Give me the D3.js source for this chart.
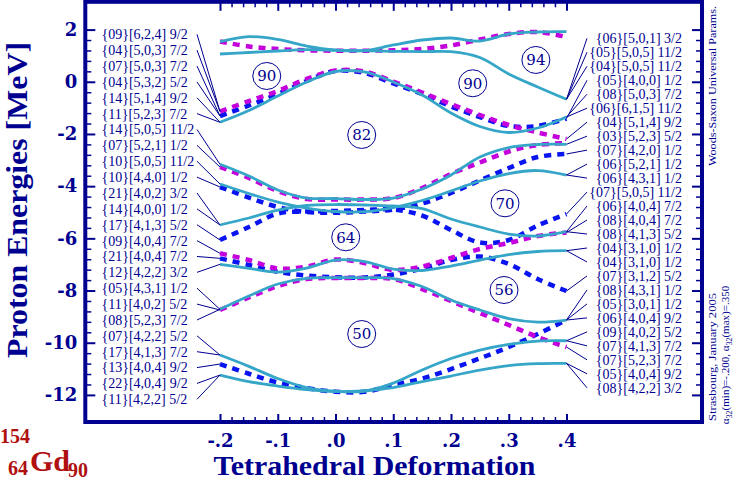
<!DOCTYPE html>
<html><head><meta charset="utf-8">
<script src="https://cdn.jsdelivr.net/npm/d3@7"></script>
<style>body{margin:0;background:#fff}svg{display:block}</style>
</head><body><svg id="c" width="733" height="482"></svg>
<script>
// ---------- data ----------
const alphaGrid = [-0.2,-0.15,-0.1,-0.05,0,0.05,0.1,0.15,0.2,0.25,0.3,0.35,0.4];

const cyan1  = [1.536,1.728,1.621,1.371,1.218,1.191,1.410,1.601,1.678,1.563,1.831,1.908,1.920];
const cyan2  = [1.065,1.122,1.180,1.230,1.207,1.187,1.168,1.153,1.153,0.931,0.298,-0.200,-0.672];
const cyan3  = [-1.553,-1.101,-0.545,-0.008,0.394,0.375,-0.008,-0.507,-1.197,-1.714,-1.944,-1.772,-1.350];
const cyan4  = [-3.163,-3.611,-4.148,-4.455,-4.474,-4.512,-4.455,-4.110,-3.573,-2.883,-2.519,-2.404,-2.396];
const cyan5  = [-3.918,-4.282,-4.608,-4.838,-4.972,-4.980,-4.819,-4.550,-4.186,-3.803,-3.516,-3.401,-3.573];
const cyan6  = [-5.489,-5.221,-4.915,-4.742,-4.704,-4.723,-4.761,-4.857,-5.260,-5.566,-5.834,-5.911,-5.746];
const cyan7  = [-6.996,-7.149,-7.291,-7.138,-6.831,-6.888,-7.176,-7.233,-7.061,-6.831,-6.620,-6.505,-6.474];
const cyan8  = [-8.721,-8.211,-7.751,-7.532,-7.509,-7.509,-7.540,-7.847,-8.364,-8.747,-9.073,-9.207,-9.131];
const cyan9  = [-10.472,-10.905,-11.373,-11.718,-11.860,-11.860,-11.546,-11.047,-10.606,-10.281,-10.062,-9.936,-9.924];
const cyan10 = [-11.239,-11.488,-11.660,-11.795,-11.871,-11.833,-11.718,-11.488,-11.277,-11.047,-10.875,-10.798,-10.790];

const blue1 = [-1.312,-0.909,-0.468,0.030,0.413,0.337,-0.066,-0.468,-0.947,-1.350,-1.695,-1.695,-1.407];
const blue2 = [-4.033,-4.435,-4.800,-4.991,-5.018,-4.972,-4.895,-4.665,-4.263,-3.784,-3.305,-2.883,-2.768];
const blue3 = [-6.064,-5.566,-5.049,-4.972,-4.953,-4.915,-4.895,-5.125,-5.681,-6.160,-6.064,-5.509,-5.068];
const blue4 = [-6.766,-7.023,-7.279,-7.425,-7.494,-7.502,-7.387,-7.157,-6.831,-6.697,-6.984,-7.559,-8.019];
const blue5 = [-10.817,-11.189,-11.526,-11.737,-11.879,-11.879,-11.622,-11.373,-11.009,-10.599,-10.166,-9.667,-9.131];

const magenta1 = [1.544,1.352,1.256,1.207,1.191,1.191,1.207,1.256,1.391,1.621,1.831,1.908,1.716];
const magenta2 = [-1.139,-0.737,-0.353,0.107,0.432,0.394,0.011,-0.411,-0.852,-1.273,-1.657,-1.944,-2.193];
const magenta3 = [-3.266,-3.688,-4.186,-4.493,-4.512,-4.512,-4.455,-4.071,-3.535,-3.094,-2.672,-2.423,-2.346];
const magenta4 = [-6.574,-6.831,-7.157,-7.080,-6.812,-6.946,-7.214,-7.080,-6.754,-6.409,-6.179,-5.911,-5.777];
const magenta5 = [-8.747,-8.268,-7.828,-7.559,-7.521,-7.521,-7.559,-7.943,-8.403,-8.862,-9.322,-9.782,-10.166];

const cyanLevels = [cyan1,cyan2,cyan3,cyan4,cyan5,cyan6,cyan7,cyan8,cyan9,cyan10];
const blueLevels = [blue1,blue2,blue3,blue4,blue5];
const magentaLevels = [magenta1,magenta2,magenta3,magenta4,magenta5];

const leftLabels = ["{09}[6,2,4] 9/2","{04}[5,0,3] 7/2","{07}[5,0,3] 7/2","{04}[5,3,2] 5/2","{14}[5,1,4] 9/2",
 "{11}[5,2,3] 7/2","{14}[5,0,5] 11/2","{07}[5,2,1] 1/2","{10}[5,0,5] 11/2","{10}[4,4,0] 1/2","{21}[4,0,2] 3/2",
 "{14}[4,0,0] 1/2","{17}[4,1,3] 5/2","{09}[4,0,4] 7/2","{21}[4,0,4] 7/2","{12}[4,2,2] 3/2","{05}[4,3,1] 1/2",
 "{11}[4,0,2] 5/2","{08}[5,2,3] 7/2","{07}[4,2,2] 5/2","{17}[4,1,3] 7/2","{13}[4,0,4] 9/2","{22}[4,0,4] 9/2","{11}[4,2,2] 5/2"];
const leftTargets = [magenta2,magenta2,blue1,blue1,cyan3,cyan3,cyan4,magenta3,cyan5,blue2,cyan6,cyan6,blue3,
 magenta4,blue4,cyan7,cyan8,magenta5,cyan8,cyan9,cyan9,blue5,cyan10,cyan10];

const rightLabels = ["{06}[5,0,1] 3/2","{05}[5,0,5] 11/2","{04}[5,0,5] 11/2","{05}[4,0,0] 1/2","{08}[5,0,3] 7/2",
 "{06}[6,1,5] 11/2","{04}[5,1,4] 9/2","{03}[5,2,3] 5/2","{07}[4,2,0] 1/2","{06}[5,2,1] 1/2","{06}[4,3,1] 1/2",
 "{07}[5,0,5] 11/2","{06}[4,0,4] 7/2","{08}[4,0,4] 7/2","{08}[4,1,3] 5/2","{04}[3,1,0] 1/2","{04}[3,1,0] 1/2",
 "{07}[3,1,2] 5/2","{08}[4,3,1] 1/2","{05}[3,0,1] 1/2","{06}[4,0,4] 9/2","{09}[4,0,2] 5/2","{07}[4,1,3] 7/2",
 "{07}[5,2,3] 7/2","{05}[4,0,4] 9/2","{08}[4,2,2] 3/2"];
const rightTargets = [cyan2,cyan2,cyan2,blue1,cyan3,cyan3,magenta2,cyan4,blue2,cyan5,cyan5,blue3,cyan6,magenta4,
 cyan6,cyan7,cyan7,blue4,cyan8,blue5,cyan8,cyan9,cyan9,magenta5,cyan10,cyan10];

const gapNumbers = ["90","90","94","82","70","64","56","50"];
const gapAlpha   = [-0.119,0.2376,0.347,0.0454,0.2935,0.0177,0.2918,0.0454];
const gapEnergy  = [0.222,-0.057,0.836,-2.039,-4.657,-5.960,-7.980,-9.667];

const yMajorTicks = [2,0,-2,-4,-6,-8,-10,-12];
const xMajorTicks = [-0.2,-0.1,0,0.1,0.2,0.3,0.4];

// ---------- drawing ----------
const NAVY = "#000090";
const svg = d3.select("#c");
const frame = {l:85.3, t:1.8, r:702, b:422};
const x = d3.scaleLinear().domain([-0.2,0.4]).range([220,566.5]);
const y = d3.scaleLinear().domain([3,-13]).range([3.5,421]);

const yMinor = d3.range(-12, 2.001, 0.4).map(v=>+v.toFixed(1)).filter(v=>!yMajorTicks.includes(v));
const xMinor = d3.range(-0.2, 0.4001, 0.02).map(v=>+v.toFixed(2)).filter(v=>!xMajorTicks.some(t=>Math.abs(t-v)<1e-6));

function styleAxis(g, w){
  g.select(".domain").remove();
  g.selectAll(".tick line").attr("stroke",NAVY).attr("stroke-width",w);
}
const fmtX = d => (d < -1e-9 ? "-" : "") + d3.format(".1f")(Math.abs(d)).replace(/^0/,"");

// left
svg.append("g").attr("transform",`translate(${frame.l},0)`)
  .call(d3.axisLeft(y).tickValues(yMajorTicks).tickSize(-10).tickPadding(8).tickFormat(d=>String(d)))
  .call(g=>{styleAxis(g,2);g.selectAll("text").attr("font-family","DejaVu Serif").attr("font-weight","bold").attr("font-size",18).attr("fill",NAVY);});
svg.append("g").attr("transform",`translate(${frame.l},0)`)
  .call(d3.axisLeft(y).tickValues(yMinor).tickSize(-6).tickFormat(""))
  .call(g=>styleAxis(g,1.5));
// right
svg.append("g").attr("transform",`translate(${frame.r},0)`)
  .call(d3.axisRight(y).tickValues(yMajorTicks).tickSize(-10).tickFormat(""))
  .call(g=>styleAxis(g,2));
svg.append("g").attr("transform",`translate(${frame.r},0)`)
  .call(d3.axisRight(y).tickValues(yMinor).tickSize(-6).tickFormat(""))
  .call(g=>styleAxis(g,1.5));
// bottom
svg.append("g").attr("transform",`translate(0,${frame.b})`)
  .call(d3.axisBottom(x).tickValues(xMajorTicks).tickSize(-8).tickPadding(12).tickFormat(fmtX))
  .call(g=>{styleAxis(g,2);g.selectAll("text").attr("font-family","DejaVu Serif").attr("font-weight","bold").attr("font-size",18).attr("fill",NAVY);});
svg.append("g").attr("transform",`translate(0,${frame.b})`)
  .call(d3.axisBottom(x).tickValues(xMinor).tickSize(-5).tickFormat(""))
  .call(g=>styleAxis(g,1.5));
// top
svg.append("g").attr("transform",`translate(0,${frame.t})`)
  .call(d3.axisTop(x).tickValues(xMajorTicks).tickSize(-9).tickFormat(""))
  .call(g=>styleAxis(g,2));
svg.append("g").attr("transform",`translate(0,${frame.t})`)
  .call(d3.axisTop(x).tickValues(xMinor).tickSize(-5.5).tickFormat(""))
  .call(g=>styleAxis(g,1.5));

// frame
svg.append("rect").attr("x",frame.l).attr("y",frame.t).attr("width",frame.r-frame.l).attr("height",frame.b-frame.t)
  .attr("fill","none").attr("stroke",NAVY).attr("stroke-width",4);

// levels
const line = d3.line().x((d,i)=>x(alphaGrid[i])).y(d=>y(d)).curve(d3.curveCatmullRom.alpha(0.5));
const gL = svg.append("g");
gL.selectAll("path.blue").data(blueLevels).join("path").attr("class","blue")
  .attr("d",line).attr("fill","none").attr("stroke","#0a14f0").attr("stroke-width",4.5).attr("stroke-dasharray","7,6");
gL.selectAll("path.mag").data(magentaLevels).join("path").attr("class","mag")
  .attr("d",line).attr("fill","none").attr("stroke","#c400dc").attr("stroke-width",4.5).attr("stroke-dasharray","7,6");
gL.selectAll("path.cyan").data(cyanLevels).join("path").attr("class","cyan")
  .attr("d",line).attr("fill","none").attr("stroke","#35a6c8").attr("stroke-width",2.8);

// labels + leaders
const leftY = i => 34.3 + i*15.87;
const rightY = i => 38.3 + i*13.98;
const gT = svg.append("g").attr("font-family","Liberation Serif").attr("font-size",14).attr("fill",NAVY);
gT.selectAll("text.l").data(leftLabels).join("text").attr("class","l")
  .attr("x",101.5).attr("y",(d,i)=>leftY(i)).attr("dy","0.35em").text(d=>d);
gT.selectAll("text.r").data(rightLabels).join("text").attr("class","r")
  .attr("x",682).attr("y",(d,i)=>rightY(i)).attr("dy","0.35em").attr("text-anchor","end").text(d=>d);
svg.append("g").selectAll("line").data(leftTargets).join("line")
  .attr("x1",197).attr("y1",(d,i)=>leftY(i)).attr("x2",x(alphaGrid[0])).attr("y2",d=>y(d[0]))
  .attr("stroke",NAVY).attr("stroke-width",1);
svg.append("g").selectAll("line").data(rightTargets).join("line")
  .attr("x1",x(alphaGrid[alphaGrid.length-1])).attr("y1",d=>y(d[d.length-1])).attr("x2",587).attr("y2",(d,i)=>rightY(i))
  .attr("stroke",NAVY).attr("stroke-width",1);

// gap circles
const gC = svg.append("g");
gapNumbers.forEach((n,i)=>{
  const cx=x(gapAlpha[i]), cy=y(gapEnergy[i]);
  gC.append("ellipse").attr("cx",cx).attr("cy",cy).attr("rx",14).attr("ry",13.5)
    .attr("fill","white").attr("stroke",NAVY).attr("stroke-width",1);
  gC.append("text").attr("x",cx).attr("y",cy).attr("dy","0.36em").attr("text-anchor","middle")
    .attr("font-family","DejaVu Serif").attr("font-size",15).attr("fill",NAVY).text(n);
});

// axis titles
svg.append("text").attr("transform","translate(27,200) rotate(-90)").attr("text-anchor","middle")
  .attr("font-family","Liberation Serif").attr("font-weight","bold").attr("font-size",29).attr("fill",NAVY)
  .attr("textLength",316).attr("lengthAdjust","spacingAndGlyphs")
  .text("Proton Energies [MeV]");
svg.append("text").attr("x",374.5).attr("y",475).attr("text-anchor","middle")
  .attr("font-family","Liberation Serif").attr("font-weight","bold").attr("font-size",28).attr("fill",NAVY)
  .attr("textLength",322).attr("lengthAdjust","spacingAndGlyphs")
  .text("Tetrahedral Deformation");

// side notes
const note = (tx,ty,txt,len)=>svg.append("text").attr("transform",`translate(${tx},${ty}) rotate(-90)`)
  .attr("text-anchor","middle").attr("font-family","Liberation Serif").attr("font-size",11).attr("fill",NAVY)
  .attr("textLength",len).attr("lengthAdjust","spacingAndGlyphs").text(txt);
note(716,86,"Woods-Saxon Universal Params.",160);
note(716,357,"Strasbourg, January 2005",128);
const a = svg.append("text").attr("transform","translate(729,355) rotate(-90)").attr("text-anchor","middle")
  .attr("font-family","Liberation Serif").attr("font-size",11).attr("fill",NAVY);
a.append("tspan").text("α");
a.append("tspan").attr("font-size",8).attr("dy",3).text("32");
a.append("tspan").attr("dy",-3).text("(min)=-.200, α");
a.append("tspan").attr("font-size",8).attr("dy",3).text("32");
a.append("tspan").attr("dy",-3).text("(max)=.350");

// nucleus
const RED = "#b01010";
const nuc = svg.append("g").attr("font-family","Liberation Serif").attr("font-weight","bold").attr("fill",RED);
nuc.append("text").attr("x",0).attr("y",443).attr("font-size",20).text("154");
nuc.append("text").attr("x",8).attr("y",475).attr("font-size",20).text("64");
nuc.append("text").attr("x",30).attr("y",471).attr("font-size",30).text("Gd");
nuc.append("text").attr("x",68).attr("y",477).attr("font-size",20).text("90");
</script></body></html>
